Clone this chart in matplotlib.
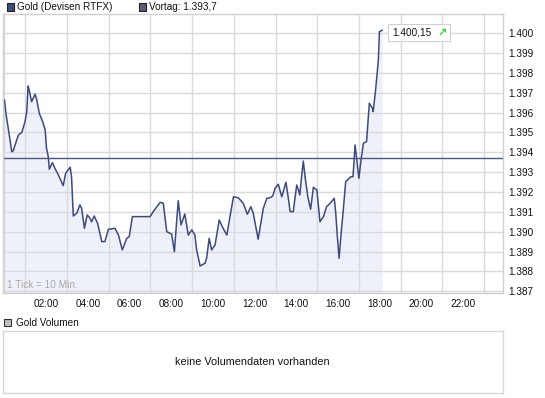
import matplotlib
matplotlib.use("Agg")
import matplotlib.pyplot as plt
from matplotlib.patches import Rectangle
from matplotlib.transforms import IdentityTransform

# minutes since 00:00 and gold price (USD)
minutes = [0, 4, 13, 21, 25, 40, 50, 59, 64, 68,
           71, 78, 88, 93, 100, 110, 117, 121, 126, 129,
           138, 145, 155, 169, 176, 189, 193, 198, 208, 217,
           222, 230, 238, 244, 251, 258, 268, 280, 289, 299,
           318, 328, 339, 352, 359, 368, 419, 428, 448, 457,
           467, 481, 489, 494, 500, 508, 519, 529, 539, 548,
           553, 563, 577, 582, 589, 596, 606, 618, 630, 640,
           649, 659, 673, 687, 699, 709, 716, 730, 745, 755,
           764, 772, 779, 788, 798, 810, 817, 822, 831, 841,
           846, 850, 855, 860, 865, 873, 881, 889, 899, 908,
           918, 927, 937, 949, 953, 958, 963, 968, 975, 982,
           997, 1003, 1009, 1014, 1020, 1026, 1033, 1042, 1050, 1059,
           1061, 1068, 1076, 1079, 1087]
prices = [1396.64, 1395.97, 1394.96, 1394.03, 1394.08, 1394.87, 1395.01, 1395.54, 1396.05, 1397.34,
          1397.14, 1396.55, 1396.93, 1396.64, 1395.97, 1395.54, 1395.13, 1394.20, 1393.78, 1393.15,
          1393.48, 1393.20, 1392.86, 1392.32, 1392.94, 1393.25, 1392.77, 1390.79, 1390.93, 1391.35,
          1391.18, 1390.17, 1390.84, 1390.73, 1390.50, 1390.79, 1390.42, 1389.50, 1389.50, 1390.12,
          1390.17, 1389.83, 1389.08, 1389.67, 1389.75, 1390.76, 1390.76, 1391.01, 1391.48, 1391.43,
          1390.00, 1389.88, 1388.99, 1390.17, 1391.56, 1390.34, 1390.89, 1389.83, 1390.09, 1389.83,
          1389.08, 1388.27, 1388.41, 1388.69, 1389.67, 1389.08, 1389.33, 1390.59, 1390.14, 1389.83,
          1390.76, 1391.76, 1391.71, 1391.43, 1390.88, 1391.26, 1390.93, 1389.62, 1391.18, 1391.68,
          1391.71, 1391.80, 1392.19, 1392.39, 1391.76, 1392.49, 1391.68, 1391.01, 1391.01, 1392.35,
          1392.10, 1391.85, 1392.77, 1393.56, 1392.77, 1391.76, 1391.13, 1392.24, 1392.10, 1390.50,
          1390.76, 1391.26, 1391.43, 1391.68, 1391.01, 1389.75, 1388.66, 1389.75, 1391.09, 1392.52,
          1392.77, 1392.77, 1394.37, 1393.61, 1392.69, 1393.61, 1394.46, 1394.54, 1396.47, 1396.22,
          1396.05, 1397.14, 1398.65, 1400.08, 1400.15]
prev_close = 1393.7

hour_ticks = list(range(2, 24, 2))
price_ticks = list(range(1387, 1401))

LINE = "#3d4a7c"
FILL = "#eef1fa"
GRID = "#dadada"
TXT = "#111111"

plt.rcParams['font.family'] = ['Liberation Sans', 'DejaVu Sans']
plt.rcParams['font.size'] = 7.2


def de_num(v, dec=0):
    s = f"{v:,.{dec}f}"
    return s.replace(",", "X").replace(".", ",").replace("X", ".")


fig = plt.figure(figsize=(5.45, 3.98), dpi=100)

# main price panel
ax = fig.add_axes([3/545, 1-293/398, 500/545, 279/398])
ax.set_xlim(-4.3, 1434.7)
ax.set_ylim(1386.91, 1400.97)

ax.fill_between(minutes, prices, 1386.91, color=FILL, lw=0, zorder=0.2)
ax.plot(minutes, prices, color=LINE, lw=1.1, zorder=2)
ax.axhline(prev_close, color="#4b5580", lw=1.0, zorder=2)

ax.set_xticks([h*60 for h in hour_ticks])
ax.set_xticklabels([f"{h:02d}:00" for h in hour_ticks])
ax.set_xticks([h*60 for h in range(0, 24)], minor=True)
ax.set_yticks(price_ticks)
ax.set_yticklabels([de_num(p) for p in price_ticks])
ax.yaxis.tick_right()
ax.tick_params(axis='both', which='both', length=0, colors=TXT)
ax.tick_params(axis='x', pad=4.5)
ax.tick_params(axis='y', pad=3.5)
ax.grid(True, which='minor', axis='x', color=GRID, lw=1.0)
ax.grid(True, which='major', axis='y', color=GRID, lw=1.0)
ax.set_axisbelow(True)
for sp in ax.spines.values():
    sp.set_color("#d0d0d0")
    sp.set_linewidth(1.0)

ax.text(0.008, 0.03, "1 Tick = 10 Min.", transform=ax.transAxes,
        color="#a8a8a8", fontsize=7.2, va='center', ha='left')

# last price label: box, value and green arrow
px, py = ax.transData.transform((minutes[-1], prices[-1]))
ax.add_patch(Rectangle((px + 6, py - 10.5), 62, 17, transform=IdentityTransform(),
                       fc='white', ec='#d0d0d0', lw=0.8, zorder=3, clip_on=False))
ax.annotate(de_num(prices[-1], 2), xy=(minutes[-1], prices[-1]),
            xytext=(10, -2), textcoords='offset pixels', va='center', ha='left',
            color=TXT, fontsize=7.2, zorder=4)
ax.annotate("\u2197", xy=(minutes[-1], prices[-1]), xytext=(55, -2),
            textcoords='offset pixels', va='center', ha='left',
            color="#22dd22", fontsize=8, fontweight='bold', family='DejaVu Sans', zorder=4)

# header legend
fig.patches.append(Rectangle((7/545, 1-10.5/398), 7/545, 7/398, transform=fig.transFigure,
                             fc="#3f5080", ec="#222222", lw=0.8))
fig.text(17/545, 1-6.5/398, "Gold (Devisen RTFX)", color=TXT, va='center', ha='left')
fig.patches.append(Rectangle((139/545, 1-10.5/398), 7/545, 7/398, transform=fig.transFigure,
                             fc="#585d75", ec="#222222", lw=0.8))
fig.text(149/545, 1-6.5/398, "Vortag: " + de_num(prev_close, 1), color=TXT, va='center', ha='left')

# volume panel
fig.patches.append(Rectangle((4/545, 1-326/398), 7/545, 7/398, transform=fig.transFigure,
                             fc="#c0c0c0", ec="#333333", lw=0.8))
fig.text(16/545, 1-322.5/398, "Gold Volumen", color=TXT, va='center', ha='left')

vax = fig.add_axes([2.5/545, 1-393/398, 500.5/545, 62.5/398])
vax.set_xticks([])
vax.set_yticks([])
for sp in vax.spines.values():
    sp.set_color("#d8d8d8")
    sp.set_linewidth(1.0)
vax.text(0.5, 0.5, "keine Volumendaten vorhanden", transform=vax.transAxes,
         ha='center', va='center', color=TXT, fontsize=7.8)

fig.savefig("out.png", dpi=100)
